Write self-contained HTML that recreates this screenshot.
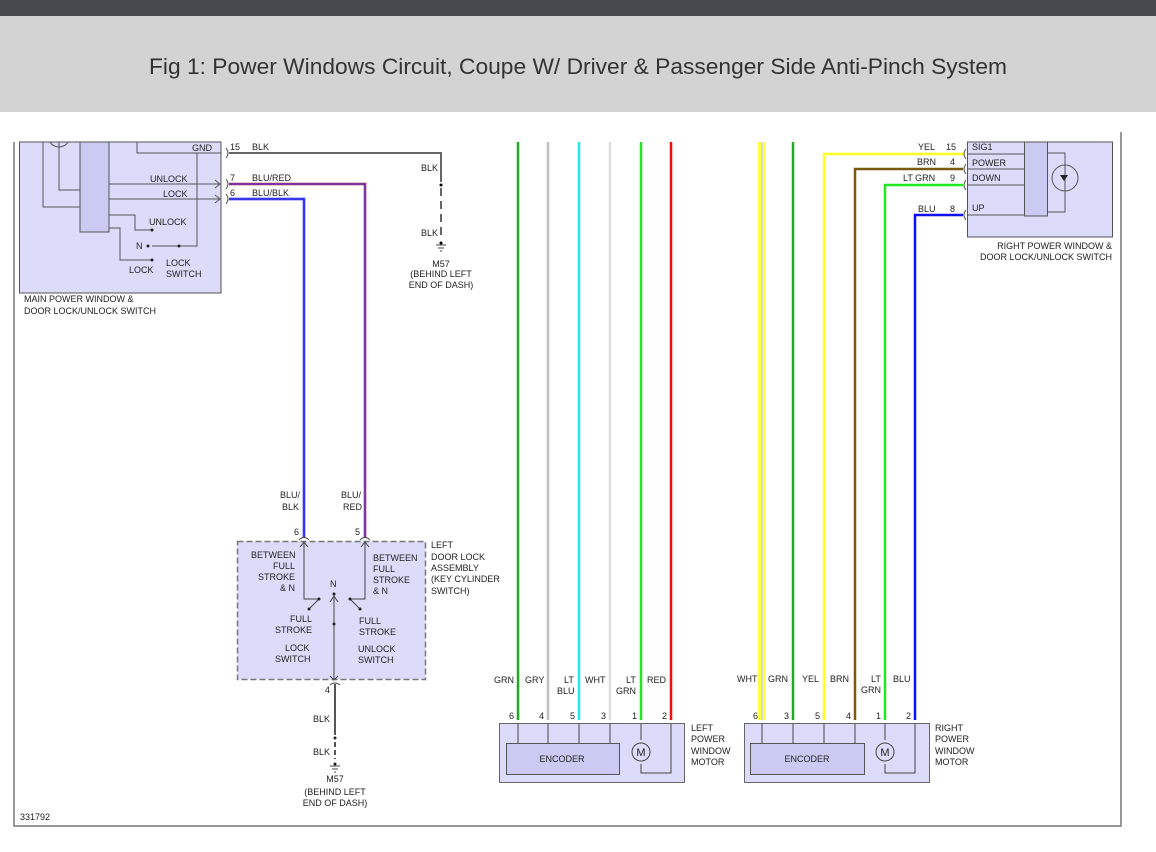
<!DOCTYPE html>
<html><head><meta charset="utf-8"><style>
html,body{margin:0;padding:0;background:#fff;}
svg{display:block;}
text{font-family:"Liberation Sans",Arial,sans-serif;font-size:9px;fill:#222;}
</style></head><body>
<svg width="1156" height="852" viewBox="0 0 1156 852" xmlns="http://www.w3.org/2000/svg">
<defs><clipPath id="cl"><rect x="0" y="142" width="1156" height="700"/></clipPath></defs>
<rect x="0" y="0" width="1156" height="16" fill="#45494d"/>
<rect x="0" y="16" width="1156" height="96" fill="#d3d3d3"/>
<text x="578" y="74" text-anchor="middle" style="font-size:22px;fill:#333" textLength="858" lengthAdjust="spacingAndGlyphs">Fig 1: Power Windows Circuit, Coupe W/ Driver &amp; Passenger Side Anti-Pinch System</text>

<!-- frame -->
<path d="M14 142 V826 H1121 V132" fill="none" stroke="#777" stroke-width="1.5"/>
<text x="20" y="820">331792</text>

<!-- main switch -->
<rect x="19.5" y="142" width="201.5" height="151" fill="#dcdcfa" stroke="#555"/>
<rect x="80" y="142" width="29" height="90" fill="#cacaf2" stroke="#555"/>
<circle cx="59" cy="136" r="11" fill="none" stroke="#555" clip-path="url(#cl)"/>
<g stroke="#555" fill="none">
<path d="M43 142 V207 H80"/>
<path d="M59 142 V190 H80"/>
<path d="M137 142 V153 H221"/>
<path d="M197 153 V246 H152"/>
<path d="M109 184 H220 M215 180 L220 184 L215 188"/>
<path d="M109 199 H220 M215 195 L220 199 L215 203"/>
<path d="M109 215 H135 V230 H152"/>
<path d="M109 228 H120 V260 H152"/>
</g>
<g fill="#222"><circle cx="152" cy="230" r="1.5"/><circle cx="152" cy="260" r="1.5"/><circle cx="179" cy="246" r="1.5"/><circle cx="148" cy="246" r="1.5"/></g>
<text x="192" y="151">GND</text>
<text x="150" y="182">UNLOCK</text>
<text x="163" y="197">LOCK</text>
<text x="149" y="225">UNLOCK</text>
<text x="136" y="249">N</text>
<text x="129" y="273">LOCK</text>
<text x="166" y="266">LOCK</text>
<text x="166" y="277">SWITCH</text>
<text x="24" y="302">MAIN POWER WINDOW &amp;</text>
<text x="24" y="314">DOOR LOCK/UNLOCK SWITCH</text>
<g fill="none" stroke="#555"><path d="M226 148 Q230 153 226 158"/><path d="M226 179 Q230 184 226 189"/><path d="M226 194 Q230 199 226 204"/></g>
<text x="230" y="150">15</text><text x="252" y="150">BLK</text>
<text x="230" y="181">7</text><text x="252" y="181">BLU/RED</text>
<text x="230" y="196">6</text><text x="252" y="196">BLU/BLK</text>
<path d="M229 153 H441 V182" fill="none" stroke="#666" stroke-width="2"/>
<path d="M441 188 V238" fill="none" stroke="#666" stroke-width="2" stroke-dasharray="8,5"/>
<circle cx="441" cy="185" r="1.5"/>
<text x="421" y="171">BLK</text><text x="421" y="236">BLK</text>
<path d="M436 245 H446 M438 248 H444 M440 251 H442" stroke="#444"/><circle cx="441" cy="243" r="1.5"/>
<text x="441" y="267" text-anchor="middle">M57</text>
<text x="441" y="277" text-anchor="middle">(BEHIND LEFT</text>
<text x="441" y="288" text-anchor="middle">END OF DASH)</text>
<!-- blu/red, blu/blk -->
<path d="M229 184 H365 V538" fill="none" stroke="#e080a0" stroke-width="3"/>
<path d="M229 184 H365 V538" fill="none" stroke="#5020a0" stroke-width="1.5"/>
<path d="M229 199 H304 V538" fill="none" stroke="#8080ff" stroke-width="3"/>
<path d="M229 199 H304 V538" fill="none" stroke="#2020e0" stroke-width="1.5"/>
<text x="280" y="498">BLU/</text><text x="282" y="510">BLK</text>
<text x="341" y="498">BLU/</text><text x="343" y="510">RED</text>
<text x="294" y="535">6</text><text x="355" y="535">5</text>
<!-- door lock -->
<rect x="237.5" y="541.5" width="188" height="138" fill="#dcdcfa" stroke="#777" stroke-width="1.5" stroke-dasharray="6,3"/>
<g stroke="#444" fill="none">
<path d="M299 540 Q304 535 309 540 M360 540 Q365 535 370 540"/>
<path d="M304 542 V599 H319 L309 609 M300 547 L304 542 L308 547"/>
<path d="M365 542 V599 H350 L360 609 M361 547 L365 542 L369 547"/>
<path d="M334 596 V680 M330 602 L334 596 L338 602 M330 676 L334 680 L338 676 M330 685 Q335 681 340 685"/>
<path d="M335 684 V735" stroke="#555" stroke-width="2"/>
<path d="M335 742 V759" stroke="#555" stroke-width="2" stroke-dasharray="5,3"/>
<path d="M330 766 H340 M332 769 H338 M334 772 H336"/>
</g>
<g fill="#222"><circle cx="334" cy="594" r="1.5"/><circle cx="334" cy="624" r="1.5"/><circle cx="319" cy="599" r="1.5"/><circle cx="309" cy="609" r="1.5"/><circle cx="350" cy="599" r="1.5"/><circle cx="360" cy="609" r="1.5"/><circle cx="335" cy="738" r="1.5"/><circle cx="335" cy="764" r="1.5"/></g>
<text x="251" y="558">BETWEEN</text><text x="273" y="569">FULL</text><text x="258" y="580">STROKE</text><text x="280" y="591">&amp; N</text>
<text x="373" y="561">BETWEEN</text><text x="373" y="572">FULL</text><text x="373" y="583">STROKE</text><text x="373" y="594">&amp; N</text>
<text x="330" y="587">N</text>
<text x="290" y="622">FULL</text><text x="275" y="633">STROKE</text>
<text x="359" y="624">FULL</text><text x="359" y="635">STROKE</text>
<text x="285" y="651">LOCK</text><text x="275" y="662">SWITCH</text>
<text x="358" y="652">UNLOCK</text><text x="358" y="663">SWITCH</text>
<text x="431" y="548">LEFT</text><text x="431" y="560">DOOR LOCK</text><text x="431" y="571">ASSEMBLY</text><text x="431" y="582">(KEY CYLINDER</text><text x="431" y="594">SWITCH)</text>
<text x="325" y="693">4</text>
<text x="313" y="722">BLK</text><text x="313" y="755">BLK</text>
<text x="335" y="782" text-anchor="middle">M57</text>
<text x="335" y="795" text-anchor="middle">(BEHIND LEFT</text>
<text x="335" y="806" text-anchor="middle">END OF DASH)</text>

<!-- left motor wires -->
<g stroke-width="2.5">
<line x1="518" y1="142" x2="518" y2="720" stroke="#22aa22"/>
<line x1="548" y1="142" x2="548" y2="720" stroke="#c0c0c0"/>
<line x1="579" y1="142" x2="579" y2="720" stroke="#22e8f0"/>
<line x1="610" y1="142" x2="610" y2="720" stroke="#e0e0e0"/>
<line x1="641" y1="142" x2="641" y2="720" stroke="#22e822"/>
<line x1="671" y1="142" x2="671" y2="720" stroke="#ee1111"/>
</g>
<text x="494" y="683">GRN</text><text x="525" y="683">GRY</text><text x="564" y="683">LT</text><text x="557" y="694">BLU</text><text x="585" y="683">WHT</text><text x="626" y="683">LT</text><text x="616" y="694">GRN</text><text x="647" y="683">RED</text>
<rect x="499.5" y="723.5" width="185" height="59" fill="#dcdcfa" stroke="#666"/>
<rect x="506.5" y="743.5" width="113" height="31" fill="#cacaf2" stroke="#555"/>
<text x="562" y="762" text-anchor="middle">ENCODER</text>
<g stroke="#444" fill="none">
<path d="M518 743 V724 M548 743 V724 M579 743 V724 M610 743 V724"/>
<path d="M641 724 V740 M641 764 V773 H671 V724"/>
<circle cx="641" cy="752" r="9" fill="#dcdcfa"/>
</g>
<text x="641" y="756" text-anchor="middle" style="font-size:11px">M</text>
<text x="509" y="719">6</text><text x="539" y="719">4</text><text x="570" y="719">5</text><text x="601" y="719">3</text><text x="632" y="719">1</text><text x="662" y="719">2</text>
<text x="691" y="731">LEFT</text><text x="691" y="742">POWER</text><text x="691" y="754">WINDOW</text><text x="691" y="765">MOTOR</text>

<!-- right motor wires -->
<line x1="762" y1="142" x2="762" y2="720" stroke="#ffff44" stroke-width="8"/>
<line x1="762" y1="142" x2="762" y2="720" stroke="#d8d8d8" stroke-width="2"/>
<line x1="793" y1="142" x2="793" y2="720" stroke="#22aa22" stroke-width="2.5"/>
<path d="M963 154 H824 V720" fill="none" stroke="#ffff22" stroke-width="2.5"/>
<path d="M963 169 H855 V720" fill="none" stroke="#7a5a10" stroke-width="2.5"/>
<path d="M963 185 H885 V720" fill="none" stroke="#22e822" stroke-width="2.5"/>
<path d="M963 215 H915 V720" fill="none" stroke="#1010ee" stroke-width="2.5"/>
<text x="737" y="682">WHT</text><text x="768" y="682">GRN</text><text x="802" y="682">YEL</text><text x="830" y="682">BRN</text><text x="871" y="682">LT</text><text x="861" y="693">GRN</text><text x="893" y="682">BLU</text>
<rect x="744.5" y="723.5" width="185" height="59" fill="#dcdcfa" stroke="#666"/>
<rect x="750.5" y="743.5" width="114" height="31" fill="#cacaf2" stroke="#555"/>
<text x="807" y="762" text-anchor="middle">ENCODER</text>
<g stroke="#444" fill="none">
<path d="M762 743 V724 M793 743 V724 M824 743 V724 M855 743 V724"/>
<path d="M885 724 V740 M885 764 V773 H915 V724"/>
<circle cx="885" cy="752" r="9" fill="#dcdcfa"/>
</g>
<text x="885" y="756" text-anchor="middle" style="font-size:11px">M</text>
<text x="753" y="719">6</text><text x="784" y="719">3</text><text x="815" y="719">5</text><text x="846" y="719">4</text><text x="876" y="719">1</text><text x="906" y="719">2</text>
<text x="935" y="731">RIGHT</text><text x="935" y="742">POWER</text><text x="935" y="754">WINDOW</text><text x="935" y="765">MOTOR</text>

<!-- right switch -->
<rect x="967.5" y="142" width="145" height="95" fill="#dcdcfa" stroke="#555"/>
<rect x="1024.5" y="142" width="23" height="74" fill="#cacaf2" stroke="#555"/>
<g stroke="#555" fill="none">
<path d="M968 154 H1024 M968 169 H1024 M968 185 H1024 M968 215 H1024"/>
<path d="M1048 153 H1065 V212 H1048"/>
<circle cx="1065" cy="178" r="13"/>
<path d="M966 149 Q962 154 966 159 M966 164 Q962 169 966 174 M966 180 Q962 185 966 190 M966 210 Q962 215 966 220"/>
</g>
<path d="M1060 175 H1068 L1064 181 Z" fill="#222"/>
<text x="972" y="150">SIG1</text><text x="972" y="166">POWER</text><text x="972" y="181">DOWN</text><text x="972" y="211">UP</text>
<text x="918" y="150">YEL</text><text x="946" y="150">15</text>
<text x="917" y="165">BRN</text><text x="950" y="165">4</text>
<text x="903" y="181">LT GRN</text><text x="950" y="181">9</text>
<text x="918" y="212">BLU</text><text x="950" y="212">8</text>
<text x="1112" y="249" text-anchor="end">RIGHT POWER WINDOW &amp;</text>
<text x="1112" y="260" text-anchor="end">DOOR LOCK/UNLOCK SWITCH</text>
</svg>
</body></html>
